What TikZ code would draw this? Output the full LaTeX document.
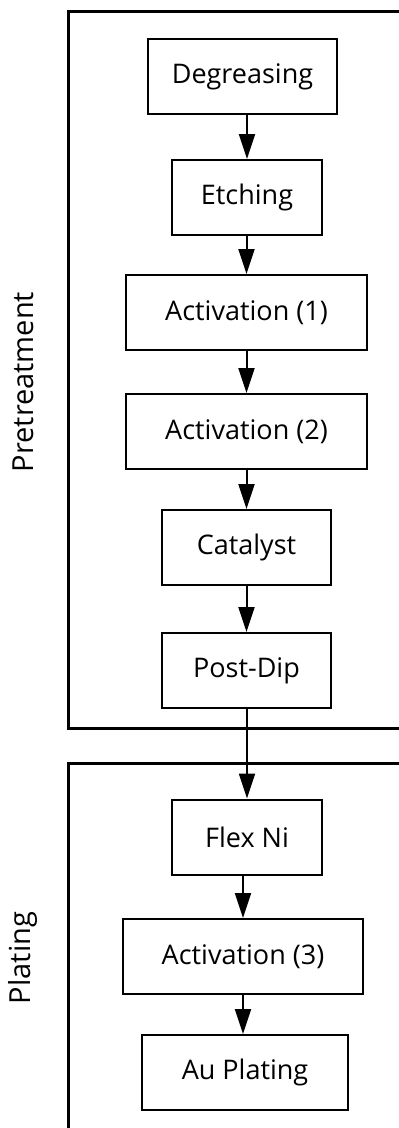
\documentclass[tikz,border=0pt]{standalone}
\usepackage{fontspec}
\setmainfont{Open Sans}
\usetikzlibrary{arrows.meta,positioning}

\begin{document}
\begin{tikzpicture}[x=1pt, y=-1pt,
        stepbox/.style={draw, line width=2pt, minimum height=75pt, inner sep=0pt,
                font=\fontsize{27}{32}\selectfont},
        flow/.style={line width=2pt, -{Triangle[length=25pt, width=16pt]}},
        frame/.style={line width=3pt},
        side/.style={rotate=90, font=\fontsize{29}{34}\selectfont}]
        \useasboundingbox (0, 0) rectangle (399, 1128);
        \clip (0, 0) rectangle (399, 1128);
        % the two stages
        \draw[frame] (68, 11) rectangle (420, 728);
        \draw[frame] (68, 763) rectangle (420, 1150);
        \node[side] (pre) at (23, 382) {Pretreatment};
        \node[side] (plate) at (23, 958) {Plating};
        % the steps
        \node[stepbox, minimum width=189pt] (degrease) at (242.5, 76.5) {Degreasing};
        \node[stepbox, minimum width=150pt] (etch) at (247, 197.5) {Etching};
        \node[stepbox, minimum width=241pt] (act1) at (246.5, 312.5) {Activation (1)};
        \node[stepbox, minimum width=241pt] (act2) at (246.5, 431.5) {Activation (2)};
        \node[stepbox, minimum width=169pt] (cat) at (246.5, 547.5) {Catalyst};
        \node[stepbox, minimum width=169pt] (postdip) at (246.5, 670.5) {Post-Dip};
        \node[stepbox, minimum width=150pt] (flexni) at (247, 837) {Flex Ni};
        \node[stepbox, minimum width=240pt] (act3) at (243, 956.5) {Activation (3)};
        \node[stepbox, minimum width=206pt] (auplate) at (245, 1072.5) {Au Plating};
        % arrows
        \draw[flow] (degrease.south -| etch.north) -- (etch.north);
        \draw[flow] (etch.south -| act1.north) -- (act1.north);
        \draw[flow] (act1.south) -- (act2.north);
        \draw[flow] (act2.south) -- (cat.north);
        \draw[flow] (cat.south) -- (postdip.north);
        \draw[flow] (postdip.south -| flexni.north) -- (flexni.north);
        \draw[flow] (flexni.south -| act3.north) -- (act3.north);
        \draw[flow] (act3.south) -- (act3.south |- auplate.north);
\end{tikzpicture}
\end{document}
